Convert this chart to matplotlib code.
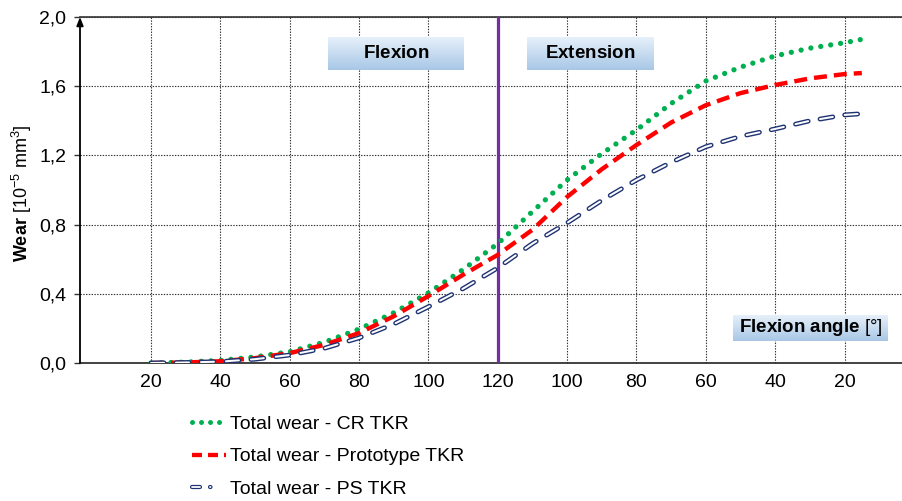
import numpy as np
import matplotlib
matplotlib.use("Agg")
import matplotlib.pyplot as plt
from matplotlib.lines import Line2D
from matplotlib.colors import LinearSegmentedColormap

plt.rcParams['font.family'] = ['Liberation Sans', 'DejaVu Sans']
plt.rcParams['mathtext.fontset'] = 'custom'
plt.rcParams['mathtext.rm'] = 'Liberation Sans'
plt.rcParams['mathtext.bf'] = 'Liberation Sans:bold'
plt.rcParams['mathtext.it'] = 'Liberation Sans:italic'
plt.rcParams['lines.scale_dashes'] = False

# ---------------- data ----------------
x_tick_labels = ["20", "40", "60", "80", "100", "120", "100", "80", "60", "40", "20"]
y_tick_values = [0.0, 0.4, 0.8, 1.2, 1.6, 2.0]
y_tick_labels = ["0,0", "0,4", "0,8", "1,2", "1,6", "2,0"]

# positions along the cycle (0 = 20° flexion ... 5 = 120° ... 10 = 20° extension)
cycle_pos = [0, 0.5, 1, 1.5, 2, 2.5, 3, 3.5, 4, 4.5, 5, 5.5, 6, 6.5, 7, 7.5, 8, 8.5, 9, 9.5, 10, 10.25]
wear_cr = [0.0, 0.005, 0.015, 0.035, 0.065, 0.12, 0.196, 0.29, 0.405, 0.54, 0.69, 0.875,
           1.058, 1.21, 1.347, 1.50, 1.63, 1.71, 1.775, 1.82, 1.851, 1.871]
wear_proto = [0.0, 0.003, 0.01, 0.028, 0.057, 0.105, 0.173, 0.27, 0.387, 0.51, 0.625, 0.77,
              0.96, 1.12, 1.26, 1.39, 1.49, 1.56, 1.607, 1.645, 1.67, 1.676]
wear_ps = [0.0, 0.003, 0.008, 0.022, 0.046, 0.085, 0.145, 0.225, 0.325, 0.43, 0.55, 0.69,
           0.81, 0.94, 1.058, 1.16, 1.25, 1.31, 1.353, 1.40, 1.434, 1.441]
phase_split = 5  # 120°
series_labels = ["Total wear - CR TKR", "Total wear - Prototype TKR", "Total wear - PS TKR"]

# ---------------- figure ----------------
W, H = 902, 501
fig = plt.figure(figsize=(W / 100, H / 100), dpi=100)
px = lambda v: v * 0.72  # pixels -> points

ax_l, ax_r, ax_t, ax_b = 80, 902, 17, 363
ax = fig.add_axes([ax_l / W, 1 - ax_b / H, (ax_r - ax_l) / W, (ax_b - ax_t) / H])
x0 = 151.0
step = 69.35
ax.set_xlim((ax_l - x0) / step, (ax_r - x0) / step)
ax.set_ylim(0, 2.0)

green = '#00B050'
red = '#FF0000'
navy = '#1F3372'
purple = '#7030A0'
FS = 14

ax.set_xticks(range(len(x_tick_labels)))
ax.set_xticklabels(x_tick_labels, fontsize=FS)
ax.set_yticks(y_tick_values)
ax.set_yticklabels(y_tick_labels, fontsize=FS)
ax.grid(True, color='#333333', linestyle=(0, (1, 1)), linewidth=0.8)
ax.set_axisbelow(True)
ax.tick_params(axis='x', length=0, pad=8, colors='#000000')
ax.tick_params(axis='y', length=4, width=1, direction='out', pad=6, color='#333333')

for s in ['left', 'right']:
    ax.spines[s].set_visible(False)
ax.spines['top'].set_color('#333333')
ax.spines['top'].set_linewidth(1.2)
ax.spines['bottom'].set_color('#222222')
ax.spines['bottom'].set_linewidth(1.2)

# left axis with arrow
ax.annotate('', xy=(0, 1.0), xycoords='axes fraction', xytext=(0, 0), textcoords='axes fraction',
            arrowprops=dict(arrowstyle='-|>,head_length=0.5,head_width=0.2', color='black', lw=1.3,
                            shrinkA=0, shrinkB=0), annotation_clip=False)

# phase divider
ax.axvline(phase_split, color=purple, linewidth=px(3.2), zorder=3)

DOT = [px(0.01), px(10)]
l_cr, = ax.plot(cycle_pos, wear_cr, color=green, linewidth=px(5.3), zorder=4,
                dash_capstyle='round')
l_cr.set_dashes(DOT)

l_pr, = ax.plot(cycle_pos, wear_proto, color=red, linewidth=px(4.4), zorder=5,
                dash_capstyle='butt')
l_pr.set_dashes([px(13), px(7)])

PSD = [px(13), px(12)]
l_ps_o, = ax.plot(cycle_pos, wear_ps, color=navy, linewidth=px(4.8), zorder=6,
                  dash_capstyle='round')
l_ps_o.set_dashes(PSD)
l_ps_i, = ax.plot(cycle_pos, wear_ps, color='white', linewidth=px(2.0), zorder=7,
                  dash_capstyle='round')
l_ps_i.set_dashes(PSD)

# gradient boxes
grad = np.linspace(0, 1, 64).reshape(-1, 1)
cmap = LinearSegmentedColormap.from_list('g', ['#E6F0FA', '#A8C7E6'])

def gbox(x1, y1, x2, y2, label, fs=13.5):
    bax = fig.add_axes([x1 / W, 1 - y2 / H, (x2 - x1) / W, (y2 - y1) / H], zorder=10)
    bax.imshow(grad, aspect='auto', cmap=cmap, extent=[0, 1, 0, 1], origin='upper')
    bax.set_xlim(0, 1)
    bax.set_ylim(0, 1)
    bax.axis('off')
    bax.text(0.5, 0.5, label, ha='center', va='center', fontsize=fs, color='black',
             transform=bax.transAxes)

gbox(328, 37, 464, 70, r'$\mathbf{Flexion}$')
gbox(527, 37, 654, 70, r'$\mathbf{Extension}$')
gbox(733, 315, 888, 341, r'$\mathbf{Flexion\ angle}$ [°]')

# y label
fig.text(22 / W, 1 - 193 / H, r'$\mathbf{Wear}$ [10$^{-5}$ mm$^{3}$]', rotation=90,
         ha='center', va='center', fontsize=13)

# legend
h_cr = Line2D([], [], color=green, linewidth=px(5.0), dashes=[px(0.01), px(9)],
              dash_capstyle='round')
h_pr = Line2D([], [], color=red, linewidth=px(4.3), dashes=[px(10), px(6)], dash_capstyle='butt')
LD = [px(8), px(10), px(0.5), px(20)]
h_ps_o = Line2D([], [], color=navy, linewidth=px(4.2), dashes=LD, dash_capstyle='round')
h_ps_i = Line2D([], [], color='white', linewidth=px(1.8), dashes=LD, dash_capstyle='round')
leg = fig.legend([h_cr, h_pr, (h_ps_o, h_ps_i)], series_labels, loc='upper left',
                 bbox_to_anchor=(192 / W, 1 - 415 / H), frameon=False, fontsize=FS,
                 handlelength=1.75, handletextpad=0.2, labelspacing=0.78, borderpad=0,
                 borderaxespad=0)

fig.savefig('out.png', dpi=100)
